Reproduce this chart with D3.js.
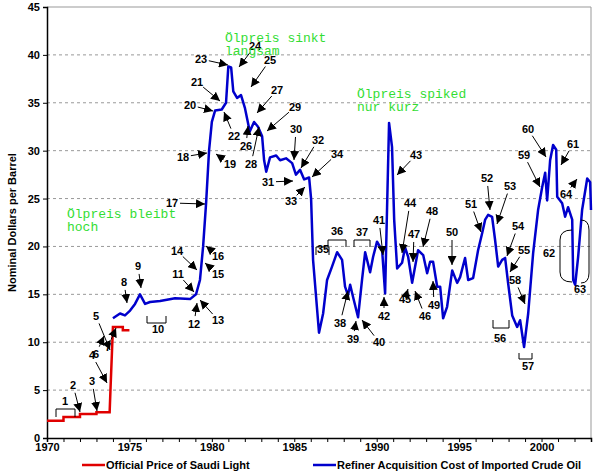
<!DOCTYPE html>
<html><head><meta charset="utf-8">
<script src="https://cdn.jsdelivr.net/npm/d3@7"></script>
<style>body{margin:0;background:#fff}svg text{font-family:Arial,"Liberation Sans",sans-serif}</style>
</head><body><svg id="c" width="609" height="474"></svg>
<script>
// Official Price of Saudi Light (step series)
const saudiYears  = [1970, 1971, 1971, 1972, 1972, 1973, 1973, 1973.8, 1973.85, 1974.0, 1974.6, 1974.6, 1975.0];
const saudiPrices = [1.8,  1.8,  2.2,  2.2,  2.5,  2.5,  2.7,  2.7,    5.0,     11.6,   11.6,   11.25,  11.25];

// Refiner Acquisition Cost of Imported Crude Oil
const racYears = [1974.0,1974.43,1974.73,1975.04,1975.34,1975.64,1975.95,1976.25,1976.86,1977.77,1978.68,1979.04,1979.28,1979.47,1979.65,1979.83,1980.0,1980.2,1980.6,1980.86,1981.0,1981.17,1981.3,1981.53,1981.77,1982.0,1982.3,1982.56,1982.8,1983.05,1983.17,1983.3,1983.53,1983.9,1984.14,1984.5,1984.87,1985.1,1985.35,1985.6,1985.9,1986.02,
  1986.14,1986.5,1986.75,1986.99,1987.29,1987.6,1987.9,1988.08,1988.26,1988.39,1988.57,1988.87,1989.11,1989.3,1989.6,1989.78,1990.02,1990.33,1990.51,1990.63,1990.75,1990.93,1991.06,1991.24,1991.54,1991.72,1991.91,1992.15,1992.33,1992.51,1992.82,1993.06,1993.24,1993.42,1993.67,1993.85,1994.03,1994.27,1994.58,1994.88,1995.06,1995.36,1995.55,1995.85,1996.15,1996.4,1996.58,1996.76,1997.0,1997.18,1997.37,1997.61,1997.79,1997.97,1998.22,1998.52,1998.7,1998.94,1999.19,1999.49,1999.79,2000.04,2000.22,2000.34,2000.52,2000.7,2000.89,2000.95,2001.25,2001.43,2001.61,2001.86,2001.92,2002.04,2002.22,2002.46,2002.77,2002.95,2003.0];
const racPrices = [12.5,13.0,12.8,13.3,14.0,15.0,14.0,14.2,14.3,14.6,14.5,15.0,16.5,20,24.5,30,33,34.2,34.3,35,38.8,38.7,36.2,35.5,35.8,34.5,32.0,33,32.5,31.5,29,27.8,29.3,29.5,29,29.2,28.7,27.5,28.0,27.0,27.2,25,
  18.6,11.0,13,16.5,17.9,19.4,18.6,15.8,14.9,16,14.7,12.6,16.5,19.4,17.3,18.9,20.5,19.6,15.1,24.1,32.9,30.4,22.8,17.7,18.3,19.9,18.9,16.2,17.9,19.6,19.1,17.2,18.4,18.4,15.8,15.8,12.5,13.7,17.5,16.2,16.8,18.8,16.5,16.7,19.6,21.4,22.8,23.3,23.1,20.7,17.9,18.6,18.8,16.2,12.8,11.6,12.3,9.5,13,19.3,23.8,26.2,27.7,24.8,29,30.6,30.1,25.2,24.5,23.1,24.1,22.8,16.5,16,18.9,23.8,27.1,26.7,23.8];

const yTicks = [0,5,10,15,20,25,30,35,40,45];
const xTickLabels = [1970,1975,1980,1985,1990,1995,2000];

// numbered annotations: [label, labelX, labelY, tipX, tipY] (screen layout)
const arrows = [
 ["2",73,389,80,412],["3",92,385,97,411],["4",92,359,107,383],["5",96,320,110,350],["6",96,358,104,336],["7",108,351,116,328],
 ["8",124,286,127,303],["9",138,270,141,288],["11",178,278,194,292],["12",194,328,197,303],["13",218,324,200,300],
 ["14",177,255,197,270],["15",218,278,205,263],["16",218,260,206,246],["17",172,207,205,204],["18",183,161,207,153],
 ["19",230,168,216,154],["20",190,109,213,111],["21",197,86,220,101],["22",234,140,224,112],["23",201,63,228,65],
 ["24",255,50,239,67],["25",270,64,251,87],["26",246,150,248,126],["27",277,94,257,113],["28",251,168,259,127],
 ["29",295,111,267,131],["30",296,133,294,160],["31",268,186,293,181],["32",318,144,301,168],["33",291,205,305,187],
 ["34",337,158,312,177],["38",340,327,348,291],["39",353,343,356,321],["40",379,346,362,320],["41",379,224,383,255],
 ["42",384,320,384,297],["43",416,159,397,175],["44",410,207,402,253],["45",405,303,408,289],["46",425,320,415,291],
 ["47",414,238,413,262],["48",432,215,423,247],["49",434,309,433,281],["50",452,236,452,265],["51",471,208,481,232],
 ["52",487,182,490,210],["53",510,190,497,224],["54",518,230,507,256],["55",524,254,510,272],["58",515,284,525,304],
 ["59",524,159,540,187],["60",528,133,546,157],["61",573,148,561,165],["64",566,198,577,179]
];
// brackets: [label, x1, x2, barY, tickY, labelX, labelY]
const brackets = [
 ["1",56,75,409,417,65,405],["10",147,166,323,316,158,333],["35",316,329,247,255,323,253],["36",328,346,240,247,337,235],
 ["37",354,370,240,247,362,236],["56",493,509,328,320,500,342],["57",519,532,359,353,528,370]
];
const notes = [
 [["Ölpreis sinkt","langsam"],225,42],
 [["Ölpreis spiked","nur kurz"],357,98],
 [["Ölpreis bleibt","hoch"],67,218]
];

const svg = d3.select("#c");
const L = 47, R = 591, T = 7, B = 438;
const x = d3.scaleLinear().domain([1970, 2003]).range([L, R]);
const y = d3.scaleLinear().domain([0, 45]).range([B, T]);

// grid
svg.append("g").selectAll("line").data(yTicks.filter(d => d > 0 && d < 45)).join("line")
  .attr("x1", L).attr("x2", R).attr("y1", d => y(d)).attr("y2", d => y(d))
  .attr("stroke", "#999").attr("stroke-dasharray", "3,3");
svg.append("line").attr("x1", L).attr("x2", R).attr("y1", T).attr("y2", T).attr("stroke", "#999");
svg.append("line").attr("x1", R).attr("x2", R).attr("y1", T).attr("y2", B).attr("stroke", "#999");

// axes
const yAxis = svg.append("g").attr("transform", `translate(${L},0)`)
  .call(d3.axisLeft(y).tickValues(yTicks).tickSize(4));
const xAxis = svg.append("g").attr("transform", `translate(0,${B})`)
  .call(d3.axisBottom(x).tickValues(d3.range(1970, 2004)).tickSize(4)
    .tickFormat(d => xTickLabels.includes(d) ? d : ""));
[yAxis, xAxis].forEach(a => {
  a.select(".domain").attr("stroke", "#000").attr("stroke-width", 1.5);
  a.selectAll("text").attr("font-size", 11).attr("font-weight", "bold").attr("fill", "#000");
});
xAxis.selectAll("text").attr("dy", "0.5em");

svg.append("text").attr("transform", `translate(16,${(T + B) / 2}) rotate(-90)`)
  .attr("text-anchor", "middle").attr("font-size", 11).attr("font-weight", "bold")
  .text("Nominal Dollars per Barrel");

// lines
const line = d3.line();
svg.append("path").attr("d", line(saudiYears.map((d, i) => [x(d), y(saudiPrices[i])])))
  .attr("fill", "none").attr("stroke", "#e00000").attr("stroke-width", 2.5);
svg.append("path").attr("d", line(racYears.map((d, i) => [x(d), y(racPrices[i])])))
  .attr("fill", "none").attr("stroke", "#0000cc").attr("stroke-width", 2.5).attr("stroke-linejoin", "round");

// annotations
svg.append("defs").append("marker").attr("id", "ah").attr("viewBox", "0 0 10 10")
  .attr("refX", 10).attr("refY", 5).attr("markerWidth", 9).attr("markerHeight", 9)
  .attr("markerUnits", "userSpaceOnUse").attr("orient", "auto")
  .append("path").attr("d", "M0,0L10,5L0,10z").attr("fill", "#000");

const ag = svg.append("g");
arrows.forEach(([t, lx, ly, tx, ty]) => {
  const dx = tx - lx, dy = ty - (ly - 4), len = Math.hypot(dx, dy);
  const sx = lx + dx / len * 8, sy = ly - 4 + dy / len * 8;
  ag.append("line").attr("x1", sx).attr("y1", sy).attr("x2", tx).attr("y2", ty)
    .attr("stroke", "#000").attr("marker-end", "url(#ah)");
  ag.append("text").attr("x", lx).attr("y", ly).attr("text-anchor", "middle")
    .attr("font-size", 11).attr("font-weight", "bold").text(t);
});
brackets.forEach(([t, x1, x2, by, ty, lx, ly]) => {
  ag.append("path").attr("d", `M${x1},${ty}V${by}H${x2}V${ty}`).attr("fill", "none").attr("stroke", "#000");
  ag.append("text").attr("x", lx).attr("y", ly).attr("text-anchor", "middle")
    .attr("font-size", 11).attr("font-weight", "bold").text(t);
});
// 62 / 63 parentheses
ag.append("path").attr("d", "M572,230Q560,230 560,240V272Q560,282 572,282").attr("fill", "none").attr("stroke", "#000");
ag.append("path").attr("d", "M581,220Q589,220 589,230V273Q589,283 581,283").attr("fill", "none").attr("stroke", "#000");
ag.append("text").attr("x", 549).attr("y", 257).attr("text-anchor", "middle").attr("font-size", 11).attr("font-weight", "bold").text("62");
ag.append("text").attr("x", 580).attr("y", 293).attr("text-anchor", "middle").attr("font-size", 11).attr("font-weight", "bold").text("63");

notes.forEach(([lines, nx, ny]) => {
  lines.forEach((s, i) => svg.append("text").attr("x", nx).attr("y", ny + i * 13)
    .style("font-family", "'Liberation Mono','DejaVu Sans Mono',monospace").attr("font-size", 13)
    .attr("fill", "#33dd33").text(s));
});

// legend
const lg = svg.append("g").attr("font-size", 11).attr("font-weight", "bold");
[["Official Price of Saudi Light", "#e00000", 82], ["Refiner Acquisition Cost of Imported Crude Oil", "#0000cc", 313]]
  .forEach(([t, c, lx]) => {
    lg.append("line").attr("x1", lx).attr("x2", lx + 23).attr("y1", 465).attr("y2", 465).attr("stroke", c).attr("stroke-width", 2.5);
    lg.append("text").attr("x", lx + 24).attr("y", 469).text(t);
  });
</script></body></html>
